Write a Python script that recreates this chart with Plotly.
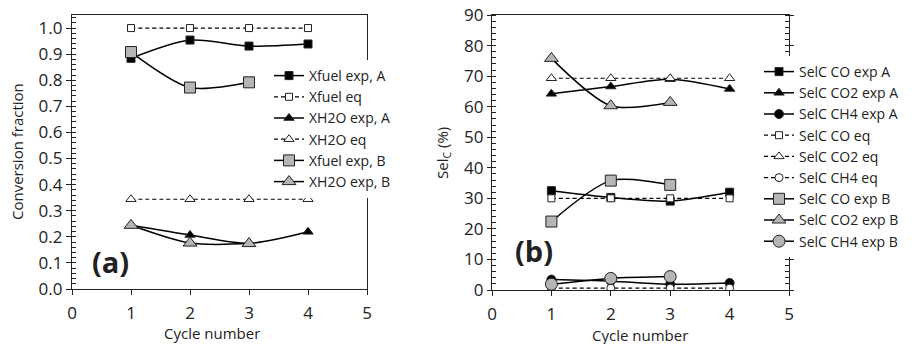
import plotly.graph_objects as go

# ---------------- data ----------------
cycles = [1, 2, 3, 4]
cycles_b = [1, 2, 3]

# panel (a)
xfuel_exp_a = [0.884, 0.954, 0.931, 0.939]
xfuel_eq = [1.0, 1.0, 1.0, 1.0]
xh2o_exp_a = [0.244, 0.207, 0.175, 0.219]
xh2o_eq = [0.344, 0.344, 0.344, 0.344]
xfuel_exp_b = [0.908, 0.772, 0.792]
xh2o_exp_b = [0.244, 0.176, 0.174]

# panel (b)
selc_co_exp_a = [32.5, 30.3, 29.1, 32.0]
selc_co2_exp_a = [64.2, 66.6, 69.0, 65.8]
selc_ch4_exp_a = [3.4, 2.9, 1.9, 2.3]
selc_co_eq = [30.0, 30.0, 30.0, 30.0]
selc_co2_eq = [69.3, 69.3, 69.3, 69.3]
selc_ch4_eq = [0.6, 0.6, 0.6, 0.6]
selc_co_exp_b = [22.4, 35.8, 34.4]
selc_co2_exp_b = [75.8, 60.3, 61.4]
selc_ch4_exp_b = [1.9, 3.8, 4.4]

x_ticks = [0, 1, 2, 3, 4, 5]

# ---------------- style ----------------
FONT = "Open Sans"
GREY = "#b5b5b5"
EDGE = "#222222"
W, H = 913, 344


def px_x(p):
    return p / W


def px_y(p):
    return (H - p) / H


fig = go.Figure()


def add(x, y, name, symbol, fill, size, dash, xa, ya, legend):
    fig.add_trace(go.Scatter(
        x=x, y=y, name=name, mode="lines+markers",
        line=dict(color="black", width=1.5 if dash == "solid" else 1.2,
                  dash="solid" if dash == "solid" else "4px,3px",
                  shape="spline", smoothing=0.8),
        marker=dict(symbol=symbol, size=size, color=fill,
                    line=dict(color=EDGE, width=1)),
        xaxis=xa, yaxis=ya, legend=legend,
    ))


# panel (a)
add(cycles, xfuel_exp_a, "Xfuel exp, A", "square", "black", 8, "solid", "x", "y", "legend")
add(cycles, xfuel_eq, "Xfuel eq", "square", "white", 7, "dash", "x", "y", "legend")
add(cycles, xh2o_exp_a, "XH2O exp, A", "triangle-up", "black", 9, "solid", "x", "y", "legend")
add(cycles, xh2o_eq, "XH2O eq", "triangle-up", "white", 9, "dash", "x", "y", "legend")
add(cycles_b, xfuel_exp_b, "Xfuel exp, B", "square", GREY, 11, "solid", "x", "y", "legend")
add(cycles_b, xh2o_exp_b, "XH2O exp, B", "triangle-up", GREY, 12, "solid", "x", "y", "legend")

# panel (b)
add(cycles, selc_co_exp_a, "SelC CO exp A", "square", "black", 8, "solid", "x2", "y2", "legend2")
add(cycles, selc_co2_exp_a, "SelC CO2 exp A", "triangle-up", "black", 9, "solid", "x2", "y2", "legend2")
add(cycles, selc_ch4_exp_a, "SelC CH4 exp A", "circle", "black", 9, "solid", "x2", "y2", "legend2")
add(cycles, selc_co_eq, "SelC CO eq", "square", "white", 7, "dash", "x2", "y2", "legend2")
add(cycles, selc_co2_eq, "SelC CO2 eq", "triangle-up", "white", 9, "dash", "x2", "y2", "legend2")
add(cycles, selc_ch4_eq, "SelC CH4 eq", "circle", "white", 8, "dash", "x2", "y2", "legend2")
add(cycles_b, selc_co_exp_b, "SelC CO exp B", "square", GREY, 11, "solid", "x2", "y2", "legend2")
add(cycles_b, selc_co2_exp_b, "SelC CO2 exp B", "triangle-up", GREY, 12, "solid", "x2", "y2", "legend2")
add(cycles_b, selc_ch4_exp_b, "SelC CH4 exp B", "circle", GREY, 12, "solid", "x2", "y2", "legend2")

# invisible trace that activates the overlay axis used for "cross" ticks
fig.add_trace(go.Scatter(x=[0], y=[0], xaxis="x2", yaxis="y3", mode="markers",
                         marker=dict(opacity=0), showlegend=False, hoverinfo="skip"))

tickfont = dict(family=FONT, size=17, color="#222")

xcommon = dict(range=[0, 5], tickvals=x_ticks, ticks="outside", ticklen=5,
               tickcolor="#222", showline=True, linecolor="#222", linewidth=1.2,
               mirror=True, showgrid=False, zeroline=False, tickfont=tickfont,
               ticklabelstandoff=3)

fig.update_layout(
    width=W, height=H,
    margin=dict(l=0, r=0, t=0, b=0, autoexpand=False),
    paper_bgcolor="white", plot_bgcolor="white",
    font=dict(family=FONT, color="#222"),
    xaxis=dict(domain=[px_x(72), px_x(367)], anchor="y", **xcommon),
    yaxis=dict(domain=[px_y(289), px_y(15)], anchor="x", range=[0, 1.05],
               dtick=0.1, tick0=0, tickformat=".1f", ticks="outside", ticklen=5,
               tickcolor="#222", showline=True, linecolor="#222", linewidth=1.2,
               mirror=True, showgrid=False, zeroline=False, tickfont=tickfont,
               minor=dict(dtick=0.02, ticks="inside", ticklen=4, tickcolor="#222", showgrid=False)),
    xaxis2=dict(domain=[px_x(492), px_x(789)], anchor="y2", **xcommon),
    yaxis2=dict(domain=[px_y(290), px_y(15)], anchor="x2", range=[0, 90],
                dtick=10, tick0=0, ticks="outside", ticklen=4,
                tickcolor="#222", showline=True, linecolor="#222", linewidth=1.2,
                mirror="ticks", showgrid=False, zeroline=False, tickfont=tickfont,
                minor=dict(dtick=2, ticks="inside", ticklen=4, tickcolor="#222", showgrid=False)),
    yaxis3=dict(overlaying="y2", anchor="x2", range=[0, 90], dtick=10, tick0=0,
                ticks="inside", ticklen=4, tickcolor="#222", showticklabels=False,
                showline=False, mirror="ticks", showgrid=False, zeroline=False),
    legend=dict(x=px_x(269), y=px_y(60), xanchor="left", yanchor="top",
                bgcolor="white", borderwidth=0, tracegroupgap=0,
                font=dict(family=FONT, size=14, color="#222")),
    legend2=dict(x=px_x(759), y=px_y(56), xanchor="left", yanchor="top",
                 bgcolor="white", borderwidth=0, tracegroupgap=0,
                 font=dict(family=FONT, size=14, color="#222")),
    showlegend=True,
)

ann = [
    dict(text="Conversion fraction", x=px_x(17), y=px_y(152), textangle=-90, size=15),
    dict(text="Sel<sub>C</sub> (%)", x=px_x(443), y=px_y(153), textangle=-90, size=15),
    dict(text="Cycle number", x=px_x(212), y=px_y(333), textangle=0, size=15),
    dict(text="Cycle number", x=px_x(640), y=px_y(335), textangle=0, size=15),
    dict(text="<b>(a)</b>", x=px_x(110), y=px_y(261), textangle=0, size=29),
    dict(text="<b>(b)</b>", x=px_x(534), y=px_y(250), textangle=0, size=29),
]
for a in ann:
    fig.add_annotation(xref="paper", yref="paper", showarrow=False,
                       xanchor="center", yanchor="middle",
                       text=a["text"], x=a["x"], y=a["y"], textangle=a["textangle"],
                       font=dict(family=FONT, color="#222", size=a["size"]))

fig.write_html("out.html", config={"displayModeBar": False},
               post_script="document.body.style.margin='0';document.body.style.overflow='hidden';")
